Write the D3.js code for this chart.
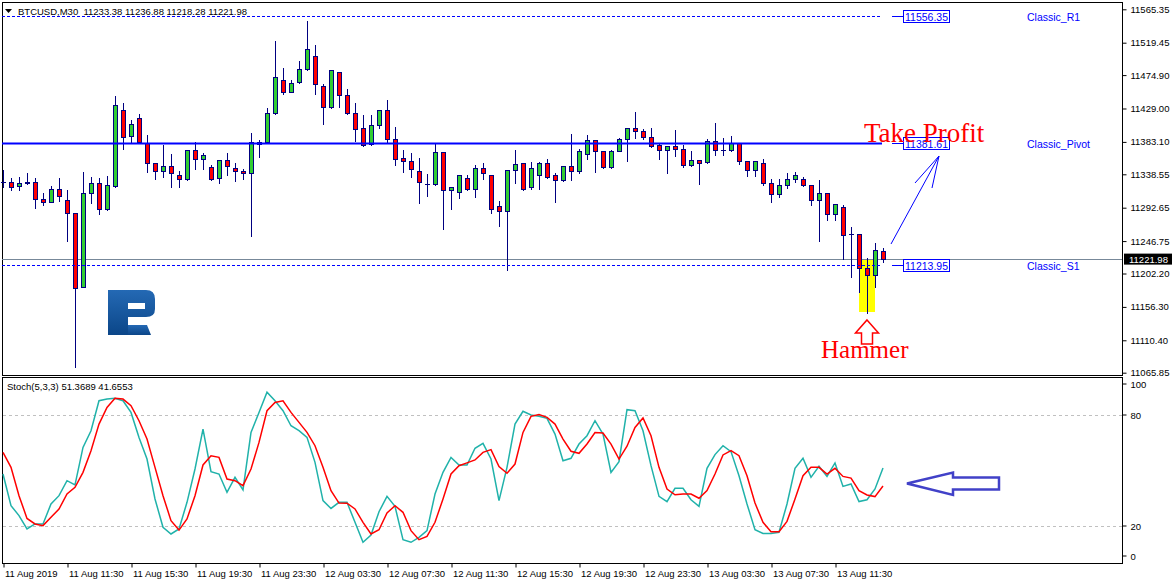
<!DOCTYPE html>
<html>
<head>
<meta charset="utf-8">
<script src="https://cdn.jsdelivr.net/npm/d3@7"></script>
<style>
  body { margin: 0; background: #fff; }
  text { font-family: "Liberation Sans", Arial, sans-serif; }
</style>
</head>
<body>
<svg></svg>
<script>
// BTCUSD M30 bars, oldest first
const open = [11328.6, 11327.5, 11322.0, 11327.4, 11327.5, 11304.2, 11300.0, 11317.9, 11303.2, 11284.9,
  11183.2, 11312.4, 11326.6, 11290.4, 11322.0, 11426.5, 11390.8, 11415.5, 11382.0, 11353.6,
  11342.6, 11349.5, 11337.1, 11331.6, 11371.5, 11359.1, 11348.1, 11333.0, 11357.8, 11346.8,
  11342.6, 11339.9, 11382.5, 11382.5, 11422.4, 11467.7, 11451.2, 11465.0, 11482.8, 11500.7,
  11459.5, 11430.6, 11478.7, 11447.1, 11422.4, 11401.8, 11379.8, 11405.9, 11426.5, 11386.6,
  11360.5, 11356.4, 11342.6, 11325.4, 11324.8, 11368.8, 11316.5, 11313.8, 11333.0, 11317.9,
  11346.8, 11337.1, 11294.5, 11287.7, 11344.0, 11353.6, 11320.7, 11337.1, 11353.6, 11337.1,
  11330.3, 11349.5, 11342.6, 11366.0, 11385.3, 11370.1, 11348.1, 11370.1, 11386.6, 11401.8,
  11397.6, 11389.4, 11378.4, 11371.5, 11377.0, 11372.9, 11350.9, 11357.8, 11355.0, 11383.9,
  11371.8, 11371.5, 11381.1, 11356.4, 11344.0, 11353.6, 11326.2, 11311.0, 11323.4, 11331.6,
  11331.6, 11323.4, 11302.8, 11312.4, 11283.5, 11293.2, 11256.3, 11256.1, 11209.3, 11199.7,
  11233.38];
const high = [11344.4, 11333.4, 11335.2, 11340.3, 11333.0, 11312.4, 11322.4, 11333.0, 11316.9, 11285.5,
  11342.1, 11334.8, 11333.4, 11336.2, 11446.1, 11436.5, 11413.2, 11421.0, 11392.5, 11354.0,
  11378.4, 11366.4, 11342.6, 11371.9, 11382.5, 11367.4, 11350.9, 11358.0, 11367.4, 11353.6,
  11345.4, 11394.9, 11385.7, 11429.7, 11521.3, 11484.2, 11468.1, 11493.8, 11548.8, 11516.2,
  11462.6, 11481.8, 11479.0, 11455.4, 11436.1, 11419.6, 11419.6, 11427.0, 11440.7, 11403.5,
  11371.9, 11367.4, 11360.5, 11338.9, 11379.8, 11369.0, 11321.0, 11337.5, 11337.1, 11350.9,
  11353.6, 11337.5, 11301.8, 11344.4, 11371.9, 11354.0, 11355.0, 11355.0, 11359.1, 11339.9,
  11350.0, 11393.5, 11372.9, 11392.1, 11385.5, 11370.3, 11371.5, 11388.0, 11402.0, 11423.7,
  11400.4, 11401.8, 11381.1, 11377.3, 11399.0, 11378.4, 11370.1, 11358.0, 11386.6, 11408.6,
  11388.0, 11391.2, 11381.5, 11356.8, 11356.8, 11359.1, 11331.6, 11331.6, 11339.9, 11341.3,
  11334.4, 11323.8, 11330.3, 11312.8, 11297.6, 11295.9, 11265.7, 11256.5, 11223.1, 11243.7,
  11236.88];
const low = [11321.1, 11316.9, 11316.9, 11325.2, 11291.8, 11296.3, 11299.8, 11302.2, 11247.3, 11074.1,
  11183.0, 11298.7, 11283.5, 11290.0, 11321.5, 11373.7, 11383.3, 11381.5, 11342.1, 11332.5,
  11335.2, 11321.5, 11321.5, 11331.0, 11345.4, 11345.4, 11331.0, 11326.2, 11337.1, 11328.9,
  11331.6, 11254.1, 11361.9, 11382.0, 11422.0, 11448.5, 11451.0, 11463.6, 11481.9, 11448.5,
  11407.3, 11430.0, 11431.4, 11421.0, 11383.9, 11378.0, 11378.4, 11401.8, 11381.1, 11350.9,
  11342.1, 11335.2, 11299.5, 11309.1, 11323.4, 11263.3, 11290.8, 11306.4, 11317.5, 11307.7,
  11331.6, 11284.9, 11267.9, 11207.0, 11327.0, 11317.5, 11317.9, 11317.9, 11334.0, 11300.9,
  11330.0, 11330.7, 11339.9, 11359.1, 11341.3, 11346.8, 11346.8, 11370.0, 11356.4, 11388.0,
  11386.6, 11375.6, 11360.0, 11339.9, 11363.3, 11348.1, 11350.5, 11324.8, 11354.6, 11364.6,
  11364.6, 11371.0, 11352.3, 11335.8, 11335.8, 11323.4, 11299.8, 11307.3, 11319.3, 11328.4,
  11322.0, 11295.9, 11247.3, 11275.3, 11275.3, 11221.7, 11197.8, 11176.3, 11147.5, 11183.2,
  11218.28];
const close = [11328.4, 11321.5, 11326.6, 11327.0, 11304.2, 11300.0, 11317.9, 11309.1, 11284.9, 11181.8,
  11312.4, 11326.6, 11290.4, 11323.4, 11433.4, 11389.4, 11407.3, 11382.9, 11353.6, 11342.6,
  11349.5, 11339.9, 11331.6, 11371.5, 11359.1, 11364.6, 11331.6, 11357.8, 11349.5, 11342.6,
  11339.9, 11382.9, 11379.8, 11422.4, 11471.9, 11451.2, 11463.6, 11482.8, 11510.3, 11462.2,
  11430.6, 11481.5, 11447.1, 11422.4, 11400.4, 11378.4, 11405.9, 11426.5, 11386.6, 11359.1,
  11356.4, 11345.4, 11327.5, 11325.2, 11368.8, 11316.5, 11320.7, 11337.1, 11317.9, 11346.8,
  11339.9, 11290.4, 11287.7, 11344.0, 11352.3, 11317.9, 11346.8, 11353.6, 11334.4, 11330.3,
  11349.5, 11342.6, 11370.1, 11385.3, 11370.1, 11348.1, 11370.1, 11386.6, 11401.8, 11397.6,
  11389.4, 11377.0, 11371.5, 11377.0, 11372.9, 11350.9, 11357.8, 11353.6, 11383.9, 11371.5,
  11371.5, 11381.1, 11356.4, 11344.0, 11356.4, 11326.2, 11311.0, 11323.4, 11331.6, 11337.1,
  11323.4, 11302.8, 11312.4, 11283.5, 11297.3, 11254.7, 11256.1, 11209.3, 11199.7, 11234.1,
  11221.98];

// Stochastic(5,3,3): main (%K) and signal (%D)
const stochMain = [48.1, 31, 25.6, 18.4, 21.1, 21.1, 31.9, 36.4, 44.5, 42.2,
  62.5, 71.5, 87.7, 88.6, 89, 87.7, 81.4, 67.9, 56.2, 34.6,
  19.3, 15.7, 18.4, 32.8, 50.8, 72.4, 49.4, 48.1, 38.2, 46.3,
  39.5, 70.6, 81.4, 92.3, 87.7, 82.3, 74.2, 71.5, 67.9, 54.4,
  33.7, 29.5, 32.8, 32.8, 22, 11.2, 15.1, 27.7, 36, 30.6,
  12.6, 11.2, 13.9, 17.5, 37.3, 49, 57.1, 53, 53, 62,
  64.7, 56.2, 33.7, 51.7, 75.1, 82, 80, 79.3, 78.2, 69.7,
  55.3, 56.6, 64.3, 68.8, 76.9, 69.7, 49, 54.8, 82.9, 82.3,
  71.5, 52.6, 36, 33.2, 40.4, 40.4, 34.2, 30.6, 51.2, 58.6,
  63.4, 60.2, 47.2, 31.9, 18, 16, 16, 16.6, 31.9, 51.2,
  56.6, 46.3, 52.3, 46.8, 54.1, 41.4, 42.7, 33.2, 34.2, 40,
  51.3689];
const stochSignal = [59.8, 51.7, 36.4, 24.1, 21.1, 20.2, 24.7, 29.2, 37.3, 40.9,
  49, 60.7, 75.1, 84.1, 89, 88.6, 85, 76.9, 67, 51.7,
  36.4, 22.9, 17.8, 23.8, 36.4, 53, 58, 57.1, 45.4, 44.5,
  41.8, 50.8, 65.2, 82.3, 86.8, 87.7, 81.4, 76, 70.6, 63.4,
  51.7, 39.1, 32.4, 32.3, 29.2, 22, 15.7, 18, 27, 31,
  27.4, 17.5, 12.6, 14.4, 22, 34.6, 48.1, 52.6, 54.1, 55.7,
  59.8, 61.3, 52.1, 48.5, 53.5, 70.6, 79.3, 80.2, 78.7, 75.1,
  67, 60.4, 59.3, 64.3, 70.5, 70.3, 64.3, 56.2, 63.1, 73.3,
  78.4, 68.8, 51.7, 40, 36.9, 37.3, 37.3, 35, 39.1, 48.1,
  58.4, 60.7, 58, 47.2, 32.4, 22, 16.9, 16.9, 22.5, 34.6,
  47.2, 51.7, 51.7, 48.1, 51.2, 46.8, 45.9, 39.1, 36.8, 35.9,
  41.6553];

const timeLabels = ['11 Aug 2019', '11 Aug 11:30', '11 Aug 15:30', '11 Aug 19:30', '11 Aug 23:30',
  '12 Aug 03:30', '12 Aug 07:30', '12 Aug 11:30', '12 Aug 15:30', '12 Aug 19:30',
  '12 Aug 23:30', '13 Aug 03:30', '13 Aug 07:30', '13 Aug 11:30'];
const priceTicks = [11565.35, 11519.45, 11474.90, 11429.00, 11383.10, 11338.55,
  11292.65, 11246.75, 11202.20, 11156.30, 11110.40, 11065.85];
const stochTicks = [100, 80, 20, 0];
const stochLevels = [80, 20];
const pivots = [
  {name: 'Classic_R1', value: 11556.35, dashed: true},
  {name: 'Classic_Pivot', value: 11381.61, dashed: false},
  {name: 'Classic_S1', value: 11213.95, dashed: true}
];
const lastPrice = 11221.98;

const panel = {left: 2, right: 1122, top: 2, bottom: 375};
const sub = {top: 377, bottom: 563};
const fmt = d3.format('.2f');

const svg = d3.select('svg')
  .attr('width', 1175)
  .attr('height', 584)
  .style('display', 'block')
  .style('background', '#fff');

const bars = open.map((o, i) => ({i, o, h: high[i], l: low[i], c: close[i]}));

const x = d3.scaleLinear().domain([0, 110]).range([3, 883]);
const y = d3.scaleLinear().domain([11065.85, 11565.35]).range([372.7, 9.3]);
const ys = d3.scaleLinear().domain([0, 100]).range([563, 378]);
const px = i => Math.round(x(i));

// panel frames
svg.append('rect')
  .attr('x', panel.left + 0.5).attr('y', panel.top + 0.5)
  .attr('width', panel.right - panel.left).attr('height', panel.bottom - panel.top)
  .attr('fill', 'none').attr('stroke', '#000');
svg.append('rect')
  .attr('x', panel.left + 0.5).attr('y', sub.top + 0.5)
  .attr('width', panel.right - panel.left).attr('height', sub.bottom - sub.top)
  .attr('fill', 'none').attr('stroke', '#000');

// logo
const defs = svg.append('defs');
const grad = defs.append('linearGradient').attr('id', 'logoGrad')
  .attr('x1', 0).attr('y1', 0).attr('x2', 0).attr('y2', 1);
grad.append('stop').attr('offset', '0%').attr('stop-color', '#2469b4');
grad.append('stop').attr('offset', '100%').attr('stop-color', '#0b4688');
const logo = svg.append('g').attr('fill', 'url(#logoGrad)');
logo.append('path')
  .attr('fill-rule', 'evenodd')
  .attr('d', 'M108,290 H146 Q155,290 155,299 V309 Q155,317 146,317 H128 V335 H108 Z M128,303 H145 V309 H128 Z');
logo.append('path').attr('d', 'M128,325 H147 L151,335 H128 Z');

// hammer highlight
svg.append('rect')
  .attr('x', 859).attr('y', 259).attr('width', 16).attr('height', 53)
  .attr('fill', '#ffff00');

// bid line
svg.append('line')
  .attr('x1', panel.left).attr('x2', panel.right)
  .attr('y1', Math.round(y(lastPrice)) + 0.5).attr('y2', Math.round(y(lastPrice)) + 0.5)
  .attr('stroke', '#778899');

// candles
const cg = svg.append('g').attr('shape-rendering', 'crispEdges');
cg.selectAll('.wick').data(bars).enter().append('line')
  .attr('class', 'wick')
  .attr('x1', d => px(d.i) + 0.5).attr('x2', d => px(d.i) + 0.5)
  .attr('y1', d => Math.round(y(d.h))).attr('y2', d => Math.round(y(d.l)) + 1)
  .attr('stroke', '#000080');
const bodyTop = d => Math.round(y(Math.max(d.o, d.c)));
const bodyBot = d => Math.round(y(Math.min(d.o, d.c)));
cg.selectAll('.body').data(bars.filter(d => bodyBot(d) > bodyTop(d))).enter().append('rect')
  .attr('class', 'body')
  .attr('x', d => px(d.i) - 1.5).attr('width', 4)
  .attr('y', d => bodyTop(d) + 0.5)
  .attr('height', d => bodyBot(d) - bodyTop(d))
  .attr('fill', d => d.c >= d.o ? '#32cd32' : '#ff0000')
  .attr('stroke', '#000080');
cg.selectAll('.doji').data(bars.filter(d => bodyBot(d) <= bodyTop(d))).enter().append('line')
  .attr('class', 'doji')
  .attr('x1', d => px(d.i) - 2).attr('x2', d => px(d.i) + 3)
  .attr('y1', d => bodyTop(d) + 0.5).attr('y2', d => bodyTop(d) + 0.5)
  .attr('stroke', '#000080');

// pivot levels
const pg = svg.append('g');
pivots.forEach(p => {
  const py = Math.round(y(p.value)) + 0.5;
  pg.append('line')
    .attr('x1', panel.left).attr('x2', 882).attr('y1', py).attr('y2', py)
    .attr('stroke', '#0000ff')
    .attr('stroke-width', p.dashed ? 1 : 2)
    .attr('stroke-dasharray', p.dashed ? '3,2' : null);
  pg.append('line')
    .attr('x1', 892).attr('x2', 903).attr('y1', py).attr('y2', py)
    .attr('stroke', '#0000ff');
  pg.append('rect')
    .attr('x', 903.5).attr('y', py - 6).attr('width', 46).attr('height', 12)
    .attr('fill', '#fff').attr('stroke', '#0000ff');
  pg.append('text')
    .attr('x', 926.5).attr('y', py + 4)
    .attr('text-anchor', 'middle')
    .style('font-size', '10.5px').attr('fill', '#0000ff')
    .text(fmt(p.value));
  pg.append('text')
    .attr('x', 1027).attr('y', py + 4)
    .style('font-size', '10.5px').attr('fill', '#0000ff')
    .text(p.name);
});

// annotations
svg.append('path')
  .attr('d', 'M891,244 L939,156 M915,183 L939,156 L932,188')
  .attr('fill', 'none').attr('stroke', '#0000ff');
svg.append('text')
  .attr('x', 864).attr('y', 142)
  .style('font-family', '"Liberation Serif", "Times New Roman", serif')
  .style('font-size', '27px').attr('fill', '#ff0000')
  .text('Take Profit');
svg.append('path')
  .attr('d', 'M867,320 L878.5,333 L872.5,333 L872.5,344 L861.5,344 L861.5,333 L855.5,333 Z')
  .attr('fill', '#fff').attr('stroke', '#ff0000').attr('stroke-width', 1.5);
svg.append('text')
  .attr('x', 821).attr('y', 358)
  .style('font-family', '"Liberation Serif", "Times New Roman", serif')
  .style('font-size', '25px').attr('fill', '#ff0000')
  .text('Hammer');

// header
svg.append('path').attr('d', 'M5,9 L12,9 L8.5,13 Z').attr('fill', '#000');
svg.append('text')
  .attr('x', 18).attr('y', 15)
  .style('font-size', '9.5px').style('white-space', 'pre')
  .text('BTCUSD,M30  11233.38 11236.88 11218.28 11221.98');

// price axis
const yAxis = svg.append('g')
  .attr('transform', `translate(${panel.right + 0.5},0)`)
  .call(d3.axisRight(y).tickValues(priceTicks).tickSize(4).tickPadding(4).tickFormat(fmt));
yAxis.select('.domain').remove();
yAxis.selectAll('text').style('font-size', '9.5px').style('font-family', '"Liberation Sans", Arial, sans-serif');

// last price marker
const ly = y(lastPrice);
svg.append('rect')
  .attr('x', 1124).attr('y', ly - 5.5).attr('width', 48).attr('height', 11)
  .attr('fill', '#000');
svg.append('text')
  .attr('x', 1129).attr('y', ly + 3.5)
  .style('font-size', '9.5px').attr('fill', '#fff')
  .text(fmt(lastPrice));

// stochastic window
svg.append('g').selectAll('line').data(stochLevels).enter().append('line')
  .attr('x1', panel.left + 1).attr('x2', panel.right)
  .attr('y1', d => Math.round(ys(d)) + 0.5).attr('y2', d => Math.round(ys(d)) + 0.5)
  .attr('stroke', '#c0c0c0').attr('stroke-dasharray', '3,3');

const stochLine = d3.line().x((d, i) => x(i)).y(d => ys(d));
svg.append('path').datum(stochMain)
  .attr('d', stochLine)
  .attr('fill', 'none').attr('stroke', '#20b2aa').attr('stroke-width', 1.5);
svg.append('path').datum(stochSignal)
  .attr('d', stochLine)
  .attr('fill', 'none').attr('stroke', '#ff0000').attr('stroke-width', 1.5);

svg.append('text')
  .attr('x', 7).attr('y', 390)
  .style('font-size', '9.5px')
  .text('Stoch(5,3,3) 51.3689 41.6553');

svg.append('path')
  .attr('d', 'M907,483.5 L953,472.5 L953,477.5 L999,477.5 L999,489.5 L953,489.5 L953,495 Z')
  .attr('fill', 'none').attr('stroke', '#4141c8').attr('stroke-width', 2.5);

// stochastic scale, end labels kept inside the window
const stochPos = v => Math.min(Math.max(ys(v), ys(100) + 6), ys(0) - 7);
const sAxis = svg.append('g').attr('transform', `translate(${panel.right + 0.5},0)`);
sAxis.selectAll('line').data(stochTicks).enter().append('line')
  .attr('x1', 0).attr('x2', 4)
  .attr('y1', d => stochPos(d)).attr('y2', d => stochPos(d))
  .attr('stroke', '#000');
sAxis.selectAll('text').data(stochTicks).enter().append('text')
  .attr('x', 8).attr('y', d => stochPos(d) + 3.5)
  .style('font-size', '9.5px')
  .text(d => d);

// time axis
const tickIdx = timeLabels.map((d, i) => i * 8);
const xAxis = svg.append('g')
  .attr('transform', `translate(0.5,${sub.bottom + 0.5})`)
  .call(d3.axisBottom(x).tickValues(tickIdx).tickSize(4).tickPadding(3)
    .tickFormat((d, i) => timeLabels[i]));
xAxis.select('.domain').remove();
xAxis.selectAll('text')
  .attr('text-anchor', 'start').attr('dx', 1)
  .style('font-size', '9.5px').style('font-family', '"Liberation Sans", Arial, sans-serif');
</script>
</body>
</html>
